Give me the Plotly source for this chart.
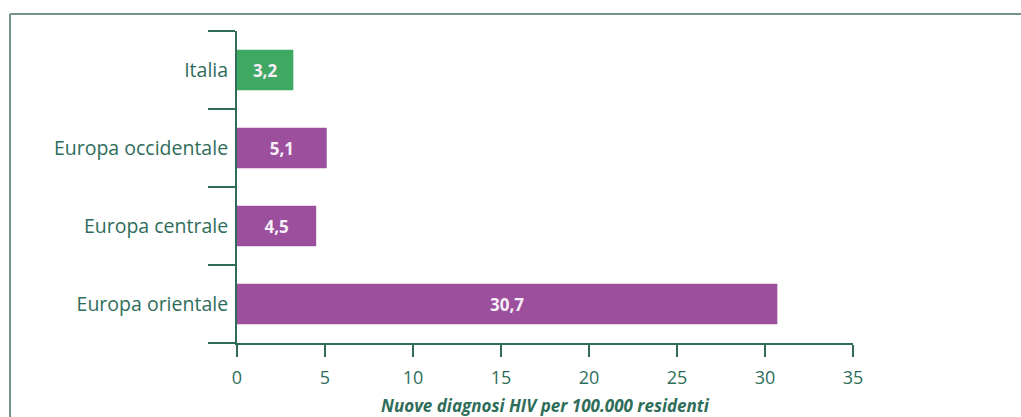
import plotly.graph_objects as go

# Nuove diagnosi HIV per 100.000 residenti, per area geografica
categories = ["Italia", "Europa occidentale", "Europa centrale", "Europa orientale"]
values = [3.2, 5.1, 4.5, 30.7]
value_labels = ["3,2", "5,1", "4,5", "30,7"]
x_ticks = [0, 5, 10, 15, 20, 25, 30, 35]

GREEN = "#3fa862"
PURPLE = "#9b4f9d"
AXIS = "#2f6b58"
TEXT = "#2f6d5b"
FRAME = "#6f9585"
FONT = "Open Sans"

bar_colors = [GREEN] + [PURPLE] * (len(categories) - 1)

# panel frame position, expressed in plot-area fractions
FRAME_X = -0.3685
FRAME_Y = 1.0545

fig = go.Figure(
    go.Bar(
        x=values,
        y=categories,
        orientation="h",
        marker=dict(color=bar_colors, line=dict(width=0)),
        width=0.52,
        text=value_labels,
        textposition="inside",
        insidetextanchor="middle",
        textfont=dict(family=FONT, size=17, color="#f7eef7", weight="bold"),
        hoverinfo="skip",
    )
)

fig.update_layout(
    width=1021,
    height=417,
    margin=dict(l=237, r=168, t=31, b=74),
    paper_bgcolor="white",
    plot_bgcolor="white",
    showlegend=False,
    font=dict(family=FONT, color=TEXT),
    shapes=[
        dict(type="line", xref="paper", yref="paper",
             x0=FRAME_X, x1=1.5, y0=FRAME_Y, y1=FRAME_Y,
             line=dict(color=FRAME, width=2), layer="below"),
        dict(type="line", xref="paper", yref="paper",
             x0=FRAME_X, x1=FRAME_X, y0=-0.3, y1=FRAME_Y,
             line=dict(color=FRAME, width=2), layer="below"),
    ],
)

fig.update_xaxes(
    range=[0, 35],
    automargin=False,
    tickvals=x_ticks,
    ticktext=[str(t) for t in x_ticks],
    ticks="outside",
    ticklen=12,
    tickwidth=2,
    tickcolor=AXIS,
    ticklabelstandoff=5,
    showline=True,
    linecolor=AXIS,
    linewidth=2,
    showgrid=False,
    zeroline=False,
    tickfont=dict(family=FONT, size=18, color=TEXT),
    title=dict(
        text="<b><i>Nuove diagnosi HIV per 100.000 residenti</i></b>",
        font=dict(family=FONT, size=17, color=TEXT),
        standoff=14,
    ),
)

fig.update_yaxes(
    categoryorder="array",
    categoryarray=categories[::-1],
    automargin=False,
    tickson="boundaries",
    ticks="outside",
    ticklen=27,
    tickwidth=2,
    tickcolor=AXIS,
    ticklabelstandoff=3,
    showline=True,
    linecolor=AXIS,
    linewidth=2,
    showgrid=False,
    zeroline=False,
    tickfont=dict(family=FONT, size=19.5, color=TEXT),
)

fig.write_html("out.html")
